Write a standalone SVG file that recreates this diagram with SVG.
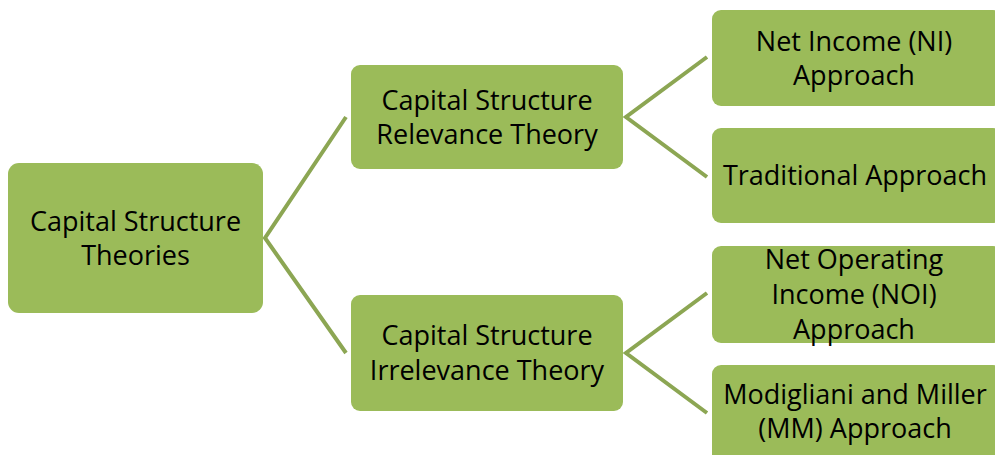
<svg xmlns="http://www.w3.org/2000/svg" width="995" height="455" viewBox="0 0 995 455">
<style>
.node rect{fill:#9BBB59;}
.node text{font-family:"Open Sans","Noto Sans","DejaVu Sans",sans-serif;font-size:27px;fill:#000;text-anchor:middle;}
.conn{stroke:#8CA653;stroke-width:4;fill:none;stroke-linejoin:miter;}
</style>
<rect width="995" height="455" fill="#fff"/>
<g id="connectors">
<polyline class="conn" points="346,117 265,238 346,353"/>
<polyline class="conn" points="707,57 626,117 707,177"/>
<polyline class="conn" points="707,293 626,353 707,413"/>
</g>
<g id="root" class="node">
<rect x="8" y="163" width="255" height="150" rx="11"/>
<text x="135.5" y="231">Capital Structure</text>
<text x="135.5" y="265">Theories</text>
</g>
<g id="relevance" class="node">
<rect x="351" y="65" width="272" height="104" rx="9"/>
<text x="487" y="110">Capital Structure</text>
<text x="487" y="144">Relevance Theory</text>
</g>
<g id="irrelevance" class="node">
<rect x="351" y="295" width="272" height="116" rx="9"/>
<text x="487" y="345">Capital Structure</text>
<text x="487" y="380">Irrelevance Theory</text>
</g>
<g id="ni" class="node">
<rect x="712" y="10" width="290" height="96" rx="9"/>
<text x="854" y="51">Net Income (NI)</text>
<text x="854" y="85">Approach</text>
</g>
<g id="traditional" class="node">
<rect x="712" y="128" width="290" height="95" rx="9"/>
<text x="855" y="185">Traditional Approach</text>
</g>
<g id="noi" class="node">
<rect x="712" y="246" width="290" height="97" rx="9"/>
<text x="854" y="269">Net Operating</text>
<text x="854" y="304">Income (NOI)</text>
<text x="854" y="339">Approach</text>
</g>
<g id="mm" class="node">
<rect x="712" y="365" width="290" height="100" rx="9"/>
<text x="855" y="404">Modigliani and Miller</text>
<text x="855" y="438">(MM) Approach</text>
</g>
</svg>
